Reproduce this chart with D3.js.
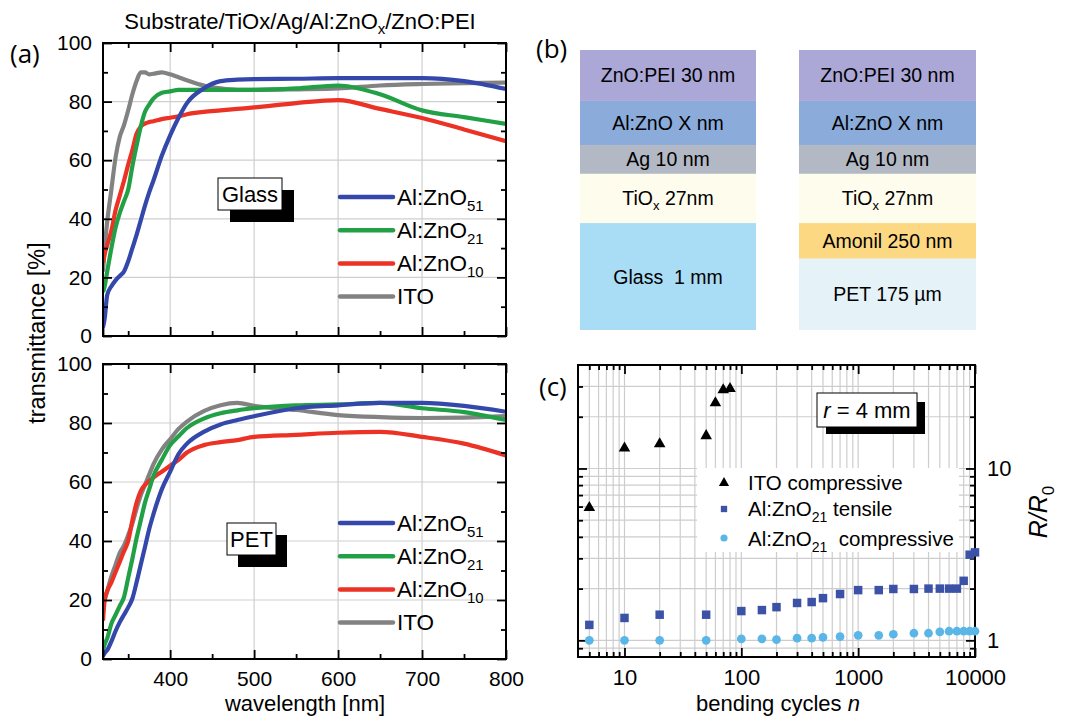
<!DOCTYPE html>
<html><head><meta charset="utf-8">
<script src="https://cdn.jsdelivr.net/npm/d3@7"></script>
<style>body{margin:0;background:#fff}svg{display:block}</style>
</head><body>
<svg id="fig" width="1070" height="718"></svg>
<script>
// ---------- DATA ----------
const wavelength = [320,322,325,330,335,340,345,350,355,360,365,370,375,380,390,400,410,420,440,460,480,500,550,600,650,700,750,800];
// Glass substrate
const glassAZO51 = [3,6,14,17,19,20.5,22,25.5,30,34.5,39.5,44.5,49,53,61.5,68.5,74.5,79.5,84.5,87,87.5,87.7,87.8,88,88,88,87,84.3];
const glassAZO21 = [15,17,22,30,37,42,46,50,58,65,71.5,76.5,79,81,83,83.5,84,84,84,84,84,84,84.5,85.5,82.5,77,74.7,72.4];
const glassAZO10 = [25,28,31,36,43,48,53,58.5,63.5,69,71.5,72.5,73,73.3,74,74.5,75,75.7,76.5,77,77.5,78,79.5,80.5,77.5,74.4,70.5,66.5];
const glassITO   = [22,30,39,50,61,68,72,77,82.5,87,90,90,89.3,89.5,90,89.3,88.3,87.3,85.5,84.5,84,84,84.2,84.5,85.5,86,86.3,86.5];
// PET substrate
const petAZO51 = [1,2,3,6,9.5,12.5,15,17.5,20.5,26,32,38,44,49,57.5,63.5,69.5,73,77,79.5,81,82.3,85,86,86.8,86.8,85.8,83.8];
const petAZO21 = [3,5,7,12,15,18,21,27.5,34,41,47,53,57.5,62,67.5,72.5,75.5,78.3,81.5,83.3,84.3,85,86,86.3,86.8,85,83.7,81];
const petAZO10 = [13,20,23,26,29.5,33,36.5,40,47,53,57,59,60.3,61.5,63.5,65.5,67.5,70,72.5,73.5,74.2,75.3,76,76.7,77,75.3,73,69];
const petITO   = [18,20,23,28,32,36,38.5,42,46,51,55.5,59,62.5,66,71,74.5,78,80.5,84,86,86.8,85.8,84.4,82.7,82,81.7,81.8,82.3];
const seriesNames = [["Al:ZnO","51"],["Al:ZnO","21"],["Al:ZnO","10"],["ITO",""]];
const seriesColors = ["#3447aa","#21a046","#ec3125","#828282"];
const transTicks = [0,20,40,60,80,100];
const wlTicks = [400,500,600,700,800];

// Layer stacks (panel b)
const stackGlass = [["ZnO:PEI 30 nm",30],["Al:ZnO X nm",26],["Ag 10 nm",17],["TiOx 27nm",29],["Glass  1 mm",63]];
const stackPET   = [["ZnO:PEI 30 nm",30],["Al:ZnO X nm",26],["Ag 10 nm",17],["TiOx 27nm",29],["Amonil 250 nm",21],["PET 175 µm",42]];
const layerColors = {"ZnO:PEI 30 nm":"#aba7d6","Al:ZnO X nm":"#8babdb","Ag 10 nm":"#b3b9c4","TiOx 27nm":"#fefcec","Glass  1 mm":"#a9ddf5","Amonil 250 nm":"#fcd883","PET 175 µm":"#e5f3f8"};

// Bending (panel c)
const cyclesITO = [5,10,20,50,60,70,80];
const ratioITO  = [6.0,13.3,14.1,15.7,24.4,29,29.5];
const cyclesAZO = [5,10,20,50,100,150,200,300,400,500,700,1000,1500,2000,3000,4000,5000,6000,7000,8000,9000,10000];
const ratioTensile = [1.23,1.35,1.41,1.41,1.48,1.50,1.56,1.65,1.67,1.76,1.86,1.96,1.96,1.99,1.99,2.0,2.0,2.0,2.0,2.22,3.15,3.25];
const ratioCompr   = [1.0,1.0,1.0,1.0,1.02,1.02,1.01,1.03,1.03,1.04,1.05,1.07,1.07,1.085,1.10,1.10,1.12,1.13,1.13,1.13,1.13,1.13];
const cycleTicks = [10,100,1000,10000];
const ratioTicks = [1,10];

// ---------- DRAW ----------
const svg = d3.select("#fig");
const FONT = "'Liberation Sans', Arial, Helvetica, sans-serif";
const LBL = "'Open Sans', 'Liberation Sans', sans-serif";

function rich(g, x, y, parts, size, anchor, subSize, subDy){
  const t = g.append("text").attr("x",x).attr("y",y).style("font-family",FONT)
    .attr("font-size",size).attr("text-anchor",anchor||"start").attr("fill","#000").attr("xml:space","preserve");
  let shifted=false;
  parts.forEach(p=>{
    const s=p[0], isSub=p[1], it=p[2];
    if(!s) return;
    const ts=t.append("tspan").text(s);
    if(isSub){ ts.attr("font-size",subSize||size*0.68); if(!shifted){ts.attr("dy",subDy||size*0.3); shifted=true;} }
    else if(shifted){ ts.attr("dy",-(subDy||size*0.3)); shifted=false; }
    if(it) ts.attr("font-style","italic");
  });
  return t;
}

function styleAxis(g, size){
  g.select(".domain").remove();
  g.selectAll("line").attr("stroke","#000").attr("stroke-width",1.8);
  g.selectAll("text").style("font-family",FONT).attr("font-size",size).attr("fill","#000");
}

function linePanel(top, bottom, data, showX, legendY, box){
  const x = d3.scaleLinear().domain([320,800]).range([103,506]);
  const y = d3.scaleLinear().domain([0,100]).range([bottom, top]);
  const g = svg.append("g");
  const cid = "clip"+top;
  g.append("clipPath").attr("id",cid).append("rect").attr("x",103).attr("y",top).attr("width",403).attr("height",bottom-top);
  // grid
  g.selectAll(".gx").data([400,500,600,700]).join("line").attr("x1",d=>x(d)).attr("x2",d=>x(d)).attr("y1",top).attr("y2",bottom).attr("stroke","#cfcfcf").attr("stroke-width",1.2);
  g.selectAll(".gy").data([20,40,60,80]).join("line").attr("y1",d=>y(d)).attr("y2",d=>y(d)).attr("x1",103).attr("x2",506).attr("stroke","#cfcfcf").attr("stroke-width",1.2);
  // curves
  const line = d3.line().x((d,i)=>x(wavelength[i])).y(d=>y(d)).curve(d3.curveMonotoneX);
  const cg = g.append("g").attr("clip-path",`url(#${cid})`);
  [3,2,1,0].forEach(k=>{
    cg.append("path").attr("d",line(data[k])).attr("fill","none").attr("stroke",seriesColors[k]).attr("stroke-width",4.2).attr("stroke-linejoin","round");
  });
  // axes (ticks inside)
  const minorX = d3.range(350,800,100), minorY = d3.range(10,100,20);
  const ab = g.append("g").attr("transform",`translate(0,${bottom})`).call(d3.axisBottom(x).tickValues(wlTicks.concat([320])).tickSize(-9).tickPadding(12).tickFormat(d=>showX&&d!==320?d:""));
  styleAxis(ab,21);
  styleAxis(g.append("g").attr("transform",`translate(0,${bottom})`).call(d3.axisBottom(x).tickValues(minorX).tickSize(-5).tickFormat("")),21);
  styleAxis(g.append("g").attr("transform",`translate(0,${top})`).call(d3.axisTop(x).tickValues(wlTicks).tickSize(-9).tickFormat("")),21);
  styleAxis(g.append("g").attr("transform",`translate(0,${top})`).call(d3.axisTop(x).tickValues(minorX).tickSize(-5).tickFormat("")),21);
  styleAxis(g.append("g").attr("transform",`translate(103,0)`).call(d3.axisLeft(y).tickValues(transTicks).tickSize(-9).tickPadding(11)),21);
  styleAxis(g.append("g").attr("transform",`translate(103,0)`).call(d3.axisLeft(y).tickValues(minorY).tickSize(-5).tickFormat("")),21);
  styleAxis(g.append("g").attr("transform",`translate(506,0)`).call(d3.axisRight(y).tickValues(transTicks).tickSize(-9).tickFormat("")),21);
  styleAxis(g.append("g").attr("transform",`translate(506,0)`).call(d3.axisRight(y).tickValues(minorY).tickSize(-5).tickFormat("")),21);
  g.append("rect").attr("x",103).attr("y",top).attr("width",403).attr("height",bottom-top).attr("fill","none").attr("stroke","#000").attr("stroke-width",2);
  // legend
  seriesNames.forEach((nm,k)=>{
    const ly = legendY + k*33.2;
    g.append("line").attr("x1",340).attr("x2",393).attr("y1",ly).attr("y2",ly).attr("stroke",seriesColors[k]).attr("stroke-width",4.5).attr("stroke-linecap","round");
    rich(g,397,ly+7.5,[[nm[0],false],[nm[1],true]],22.5,"start",15,6);
  });
  // label box with shadow
  g.append("rect").attr("x",box.x+box.dx).attr("y",box.y+box.dy).attr("width",box.w).attr("height",box.h).attr("fill","#000");
  g.append("rect").attr("x",box.x).attr("y",box.y).attr("width",box.w).attr("height",box.h).attr("fill","#fff").attr("stroke","#000").attr("stroke-width",1);
  g.append("text").attr("x",box.x+box.w/2).attr("y",box.y+box.h/2+8).attr("text-anchor","middle").style("font-family",FONT).attr("font-size",22).text(box.t);
}

linePanel(43,336,[glassAZO51,glassAZO21,glassAZO10,glassITO],false,197,{x:218,y:178,w:64,h:32,dx:12,dy:12,t:"Glass"});
linePanel(364,659,[petAZO51,petAZO21,petAZO10,petITO],true,523,{x:227,y:523,w:49,h:32,dx:11,dy:12,t:"PET"});

// panel a texts
rich(svg,300,29,[["Substrate/TiOx/Ag/Al:ZnO",false],["x",true],["/ZnO:PEI",false]],22,"middle",15,5);
svg.append("text").attr("x",10).attr("y",63).style("font-family",LBL).attr("font-size",26).text("(a)");
svg.append("text").attr("transform","translate(45,333) rotate(-90)").attr("text-anchor","middle").style("font-family",FONT).attr("font-size",23.5).text("transmittance [%]");
svg.append("text").attr("x",305).attr("y",711).attr("text-anchor","middle").style("font-family",FONT).attr("font-size",22).text("wavelength [nm]");

// ---------- panel b ----------
svg.append("text").attr("x",536).attr("y",58).style("font-family",LBL).attr("font-size",26).text("(b)");
function stack(x0, x1, layers){
  const total = d3.sum(layers,d=>d[1]);
  const yS = d3.scaleLinear().domain([0,total]).range([50,330]);
  let acc=0;
  layers.forEach(l=>{
    const y0=yS(acc), y1=yS(acc+l[1]); acc+=l[1];
    svg.append("rect").attr("x",x0).attr("y",y0).attr("width",x1-x0).attr("height",y1-y0).attr("fill",layerColors[l[0]]);
    const cx=(x0+x1)/2, cy=(y0+y1)/2+7;
    if(l[0].startsWith("TiOx")) rich(svg,cx,cy,[["TiO",false],["x",true],[" 27nm",false]],19.5,"middle",13,5);
    else rich(svg,cx,cy,[[l[0],false]],19.5,"middle");
  });
}
stack(580,756,stackGlass);
stack(799,976,stackPET);

// ---------- panel c ----------
(function(){
  const L=578,R=975,T=365,B=657;
  const x = d3.scaleLog().domain([4,10000]).range([L,R]);
  const y = d3.scaleLog().domain([0.8,40]).range([B,T]);
  const g = svg.append("g");
  const minorXv = [5,6,7,8,9,20,30,40,50,60,70,80,90,200,300,400,500,600,700,800,900,2000,3000,4000,5000,6000,7000,8000,9000];
  const minorYv = [0.9,2,3,4,5,6,7,8,9,20,30];
  const allX = minorXv.concat([10,100,1000]), allY = minorYv.concat([1,10]);
  g.selectAll(".gx").data(allX).join("line").attr("x1",d=>x(d)).attr("x2",d=>x(d)).attr("y1",T).attr("y2",B).attr("stroke","#cdcdcd").attr("stroke-width",1.2);
  g.selectAll(".gy").data(allY).join("line").attr("y1",d=>y(d)).attr("y2",d=>y(d)).attr("x1",L).attr("x2",R).attr("stroke","#cdcdcd").attr("stroke-width",1.2);
  // legend background
  g.append("rect").attr("x",697).attr("y",468).attr("width",262).attr("height",84).attr("fill","#fff");
  // axes
  styleAxis(g.append("g").attr("transform",`translate(0,${B})`).call(d3.axisBottom(x).tickValues(cycleTicks).tickSize(-9).tickPadding(12).tickFormat(d3.format("d"))),22);
  styleAxis(g.append("g").attr("transform",`translate(0,${B})`).call(d3.axisBottom(x).tickValues(minorXv).tickSize(-5).tickFormat("")),22);
  styleAxis(g.append("g").attr("transform",`translate(0,${T})`).call(d3.axisTop(x).tickValues(cycleTicks).tickSize(-9).tickFormat("")),22);
  styleAxis(g.append("g").attr("transform",`translate(0,${T})`).call(d3.axisTop(x).tickValues(minorXv).tickSize(-5).tickFormat("")),22);
  styleAxis(g.append("g").attr("transform",`translate(${L},0)`).call(d3.axisLeft(y).tickValues(ratioTicks).tickSize(-9).tickFormat("")),22);
  styleAxis(g.append("g").attr("transform",`translate(${L},0)`).call(d3.axisLeft(y).tickValues(minorYv).tickSize(-5).tickFormat("")),22);
  styleAxis(g.append("g").attr("transform",`translate(${R},0)`).call(d3.axisRight(y).tickValues(ratioTicks).tickSize(-9).tickPadding(12).tickFormat(d3.format("d"))),22);
  styleAxis(g.append("g").attr("transform",`translate(${R},0)`).call(d3.axisRight(y).tickValues(minorYv).tickSize(-5).tickFormat("")),22);
  g.append("rect").attr("x",L).attr("y",T).attr("width",R-L).attr("height",B-T).attr("fill","none").attr("stroke","#000").attr("stroke-width",2);
  // markers
  const tri = d3.symbol().type(d3.symbolTriangle).size(58);
  const sq = d3.symbol().type(d3.symbolSquare).size(72);
  const ci = d3.symbol().type(d3.symbolCircle).size(60);
  g.selectAll(".c").data(cyclesAZO).join("path").attr("d",ci).attr("transform",(d,i)=>`translate(${x(d)},${y(ratioCompr[i])})`).attr("fill","#5bb6e8");
  g.selectAll(".s").data(cyclesAZO).join("path").attr("d",sq).attr("transform",(d,i)=>`translate(${x(d)},${y(ratioTensile[i])})`).attr("fill","#3c52a6");
  g.selectAll(".t").data(cyclesITO).join("path").attr("d",tri).attr("transform",(d,i)=>`translate(${x(d)},${y(ratioITO[i])+1})`).attr("fill","#000");
  // legend
  g.append("path").attr("d",d3.symbol().type(d3.symbolTriangle).size(45)).attr("transform","translate(724,483)").attr("fill","#000");
  g.append("path").attr("d",d3.symbol().type(d3.symbolSquare).size(40)).attr("transform","translate(724,509)").attr("fill","#3c52a6");
  g.append("path").attr("d",d3.symbol().type(d3.symbolCircle).size(40)).attr("transform","translate(724,538)").attr("fill","#5bb6e8");
  rich(g,748,490,[["ITO compressive",false]],20.5,"start");
  rich(g,748,516,[["Al:ZnO",false],["21",true],[" tensile",false]],20.5,"start",14,6);
  rich(g,748,546,[["Al:ZnO",false],["21",true],["  compressive",false]],20.5,"start",14,6);
  // r box
  g.append("rect").attr("x",826).attr("y",402).attr("width",99).attr("height",32).attr("fill","#000");
  g.append("rect").attr("x",817).attr("y",393).attr("width",100).attr("height",34).attr("fill","#fff").attr("stroke","#000").attr("stroke-width",1);
  rich(g,867,418,[["r",false,true],[" = 4 mm",false]],22,"middle");
  // labels
  svg.append("text").attr("x",539).attr("y",396).style("font-family",LBL).attr("font-size",26).text("(c)");
  rich(svg,778,711,[["bending cycles ",false],["n",false,true]],22,"middle");
  const rt = svg.append("g").attr("transform","translate(1047,512) rotate(-90)");
  rich(rt,0,0,[["R/R",false,true],["0",true]],25,"middle",17,7);
})();
</script>
</body></html>
